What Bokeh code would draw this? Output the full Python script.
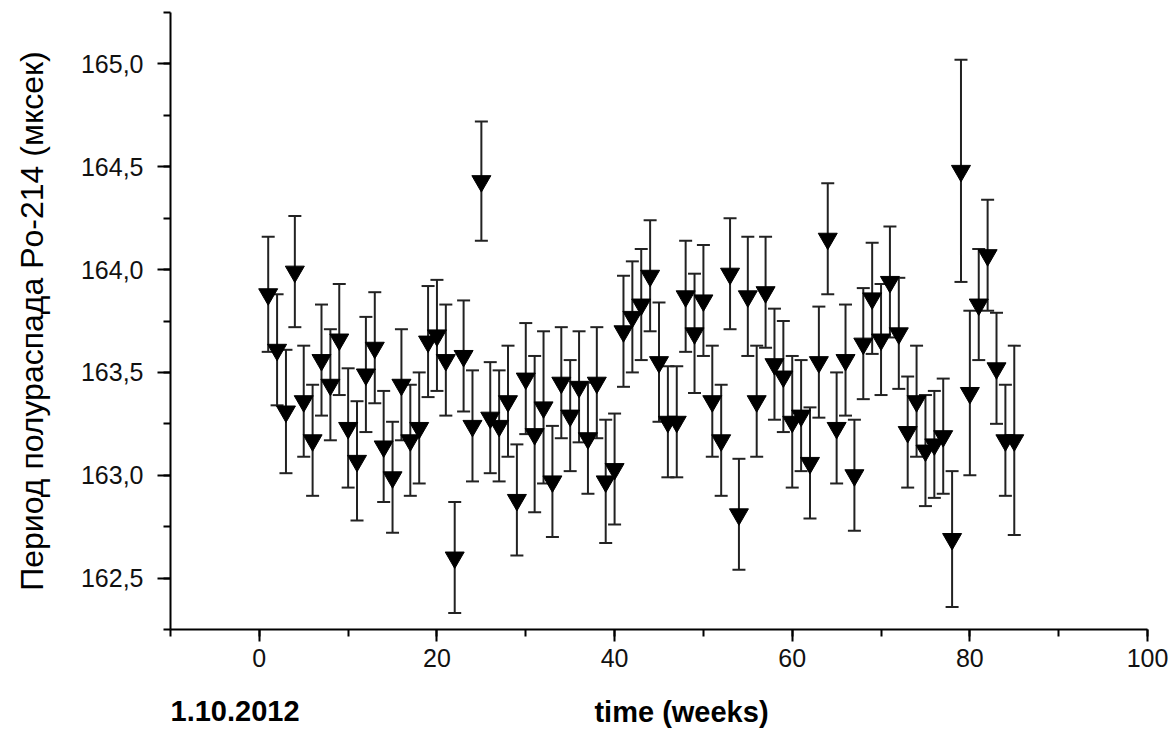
from bokeh.plotting import figure
from bokeh.models import (ColumnDataSource, Range1d, SingleIntervalTicker, CustomJSTickFormatter,
                          Whisker, TeeHead, Label)
from bokeh.embed import file_html
from bokeh.resources import INLINE

weeks = list(range(1, 86))
half_life = [
    163.88, 163.61, 163.31, 163.99, 163.36, 163.17, 163.56, 163.44, 163.66, 163.23,
    163.07, 163.49, 163.62, 163.14, 162.99, 163.44, 163.17, 163.23, 163.65, 163.68,
    163.56, 162.60, 163.58, 163.24, 164.43, 163.28, 163.24, 163.36, 162.88, 163.47,
    163.20, 163.33, 162.97, 163.45, 163.29, 163.43, 163.18, 163.45, 162.97, 163.03,
    163.70, 163.77, 163.83, 163.97, 163.55, 163.26, 163.26, 163.87, 163.69, 163.85,
    163.36, 163.17, 163.98, 162.81, 163.87, 163.36, 163.89, 163.54, 163.48, 163.26,
    163.29, 163.06, 163.55, 164.15, 163.23, 163.56, 163.00, 163.64, 163.86, 163.66,
    163.94, 163.69, 163.21, 163.36, 163.12, 163.15, 163.19, 162.69, 164.48, 163.40,
    163.83, 164.07, 163.52, 163.17, 163.17,
]
errors = [
    0.28, 0.27, 0.30, 0.27, 0.27, 0.27, 0.27, 0.27, 0.27, 0.29,
    0.29, 0.28, 0.27, 0.27, 0.27, 0.27, 0.27, 0.27, 0.27, 0.27,
    0.27, 0.27, 0.27, 0.27, 0.29, 0.27, 0.27, 0.27, 0.27, 0.27,
    0.38, 0.37, 0.27, 0.27, 0.27, 0.27, 0.27, 0.27, 0.30, 0.27,
    0.27, 0.27, 0.27, 0.27, 0.29, 0.27, 0.27, 0.27, 0.29, 0.27,
    0.27, 0.27, 0.27, 0.27, 0.29, 0.27, 0.27, 0.27, 0.27, 0.32,
    0.27, 0.27, 0.27, 0.27, 0.27, 0.27, 0.27, 0.27, 0.27, 0.27,
    0.27, 0.27, 0.27, 0.27, 0.27, 0.26, 0.28, 0.33, 0.54, 0.40,
    0.27, 0.27, 0.27, 0.27, 0.46,
]
y_label = "Период полураспада Po-214 (мксек)"
x_label = "time (weeks)"
date_label = "1.10.2012"

upper = [v + e for v, e in zip(half_life, errors)]
lower = [v - e for v, e in zip(half_life, errors)]
src = ColumnDataSource(dict(x=weeks, y=half_life, upper=upper, lower=lower))

FONT = "Liberation Sans"

p = figure(width=1176, height=730, output_backend="svg", toolbar_location=None,
           x_range=Range1d(-10, 100), y_range=Range1d(162.25, 165.25),
           min_border_left=170, min_border_right=29, min_border_top=12, min_border_bottom=101)
p.outline_line_color = None
p.xgrid.visible = False
p.ygrid.visible = False
p.background_fill_color = "white"
p.border_fill_color = "white"

for ax in (p.xaxis[0], p.yaxis[0]):
    ax.axis_line_width = 2
    ax.axis_line_color = "black"
    ax.major_tick_line_width = 2
    ax.minor_tick_line_width = 2
    ax.major_tick_line_color = "black"
    ax.minor_tick_line_color = "black"
    ax.major_tick_in = 0
    ax.minor_tick_in = 0
    ax.major_label_text_font = FONT
    ax.major_label_text_font_size = "25px"
    ax.major_label_text_color = "#111111"

p.xaxis[0].ticker = SingleIntervalTicker(interval=20, num_minor_ticks=2)
p.xaxis[0].major_tick_out = 12
p.xaxis[0].minor_tick_out = 7
p.xaxis[0].major_label_standoff = 7

p.yaxis[0].ticker = SingleIntervalTicker(interval=0.5, num_minor_ticks=2)
p.yaxis[0].major_tick_out = 13
p.yaxis[0].minor_tick_out = 7
p.yaxis[0].major_label_standoff = 14
p.yaxis[0].formatter = CustomJSTickFormatter(code="return tick.toFixed(1).replace('.', ',');")
p.yaxis[0].axis_label = y_label
p.yaxis[0].axis_label_text_font = FONT
p.yaxis[0].axis_label_text_font_size = "32px"
p.yaxis[0].axis_label_text_font_style = "normal"
p.yaxis[0].axis_label_text_color = "black"
p.yaxis[0].axis_label_standoff = 28

whisk = Whisker(base="x", upper="upper", lower="lower", source=src,
                line_color="#222222", line_width=2,
                upper_head=TeeHead(size=13, line_width=2, line_color="#222222"),
                lower_head=TeeHead(size=13, line_width=2, line_color="#222222"))
p.add_layout(whisk)

p.scatter(x="x", y="y", source=src, marker="inverted_triangle", size=19,
          fill_color="black", line_color="black", line_width=1)

# texts below the x axis (each Label sits in its own panel below the axis)
p.add_layout(Label(x=0, y=-31, x_units="screen", y_units="screen", text=date_label,
                   text_font=FONT, text_font_size="29px", text_font_style="bold",
                   text_align="left", text_color="black"), "below")
p.add_layout(Label(x=511, y=-6, x_units="screen", y_units="screen", text=x_label,
                   text_font=FONT, text_font_size="29px", text_font_style="bold",
                   text_align="center", text_color="black"), "below")

open("out.html", "w").write(file_html(p, INLINE))
